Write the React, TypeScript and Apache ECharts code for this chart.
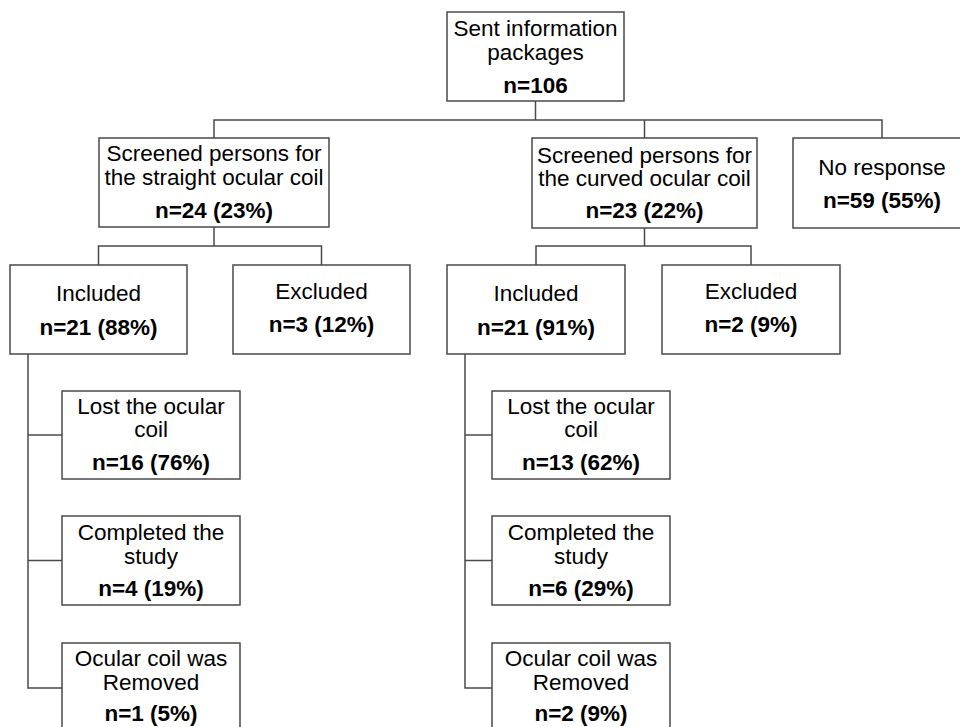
import React, { useEffect, useRef } from "react";
import * as echarts from "echarts";

// ---- data ----
const titles: string[][] = [
  ["Sent information", "packages"],
  ["Screened persons for", "the straight ocular coil"],
  ["Screened persons for", "the curved ocular coil"],
  ["No response"],
  ["Included"],
  ["Excluded"],
  ["Included"],
  ["Excluded"],
  ["Lost the ocular", "coil"],
  ["Completed the", "study"],
  ["Ocular coil was", "Removed"],
  ["Lost the ocular", "coil"],
  ["Completed the", "study"],
  ["Ocular coil was", "Removed"],
];
const counts: number[] = [106, 24, 23, 59, 21, 3, 21, 2, 16, 4, 1, 13, 6, 2];
const percents: (number | null)[] = [null, 23, 22, 55, 88, 12, 91, 9, 76, 19, 5, 62, 29, 9];

// ---- layout (positions only) ----
// [x, y, w, h], title line centers, count line center
const boxes: number[][] = [
  [447, 12, 177, 89],
  [99, 138, 230, 89],
  [532, 138, 225, 90],
  [793, 138, 178, 90],
  [10, 265, 177, 89],
  [233, 265, 177, 89],
  [447, 265, 178, 89],
  [662, 265, 178, 89],
  [62, 391, 178, 88],
  [62, 516, 178, 89],
  [62, 643, 178, 100],
  [492, 391, 178, 88],
  [492, 516, 178, 89],
  [492, 643, 178, 100],
];
const titleYs: number[][] = [
  [28, 52],
  [153, 177],
  [155, 178],
  [167],
  [293],
  [291],
  [293],
  [291],
  [406, 429],
  [532, 556],
  [658, 682],
  [406, 429],
  [532, 556],
  [658, 682],
];
const countYs: number[] = [85, 210, 210, 200, 327, 324, 327, 324, 462, 588, 713, 462, 588, 713];

const LINE = "#4a4a4a";
const FONT = '"Liberation Sans", Arial, sans-serif';

function cx(i: number) {
  return boxes[i][0] + boxes[i][2] / 2;
}
function top(i: number) {
  return boxes[i][1];
}
function bottom(i: number) {
  return boxes[i][1] + boxes[i][3];
}
function left(i: number) {
  return boxes[i][0];
}
function midY(i: number) {
  return boxes[i][1] + boxes[i][3] / 2;
}

export default function App() {
  const ref = useRef<HTMLDivElement>(null);
  useEffect(() => {
    if (!ref.current) return;
    const chart = echarts.init(ref.current, undefined, { renderer: "svg" });
    const elements: any[] = [];
    const poly = (pts: number[][]) =>
      elements.push({
        type: "polyline",
        shape: { points: pts },
        style: { stroke: LINE, lineWidth: 1.5, fill: null },
        silent: true,
      });

    // connectors
    const barY1 = 120;
    poly([[cx(0), bottom(0)], [cx(0), barY1]]);
    poly([[cx(1), top(1)], [cx(1), barY1], [cx(3), barY1], [cx(3), top(3)]]);
    poly([[cx(2), barY1], [cx(2), top(2)]]);
    const barY2 = 246;
    poly([[cx(1), bottom(1)], [cx(1), barY2]]);
    poly([[cx(4), top(4)], [cx(4), barY2], [cx(5), barY2], [cx(5), top(5)]]);
    poly([[cx(2), bottom(2)], [cx(2), barY2]]);
    poly([[cx(6), top(6)], [cx(6), barY2], [cx(7), barY2], [cx(7), top(7)]]);
    const trunkL = 28;
    const trunkR = 465;
    poly([[trunkL, bottom(4)], [trunkL, midY(10) - 5], [left(10), midY(10) - 5]]);
    poly([[trunkL, midY(8)], [left(8), midY(8)]]);
    poly([[trunkL, midY(9)], [left(9), midY(9)]]);
    poly([[trunkR, bottom(6)], [trunkR, midY(13) - 5], [left(13), midY(13) - 5]]);
    poly([[trunkR, midY(11)], [left(11), midY(11)]]);
    poly([[trunkR, midY(12)], [left(12), midY(12)]]);

    // boxes & texts
    boxes.forEach((b, i) => {
      elements.push({
        type: "rect",
        shape: { x: b[0], y: b[1], width: b[2], height: b[3] },
        style: { fill: "#ffffff", stroke: LINE, lineWidth: 1.5 },
        silent: true,
      });
      const c = b[0] + b[2] / 2;
      titles[i].forEach((t, k) => {
        elements.push({
          type: "text",
          x: c,
          y: titleYs[i][k],
          style: {
            text: t,
            fill: "#000",
            font: `22.5px ${FONT}`,
            align: "center",
            verticalAlign: "middle",
          },
          silent: true,
        });
      });
      const p = percents[i];
      const label = p === null ? `n=${counts[i]}` : `n=${counts[i]} (${p}%)`;
      elements.push({
        type: "text",
        x: c,
        y: countYs[i],
        style: {
          text: label,
          fill: "#000",
          font: `bold 22.5px ${FONT}`,
          align: "center",
          verticalAlign: "middle",
        },
        silent: true,
      });
    });

    chart.setOption({
      animation: false,
      backgroundColor: "#ffffff",
      graphic: { elements },
    });
    return () => chart.dispose();
  }, []);
  return (
    <div
      ref={ref}
      style={{ position: "fixed", left: 0, top: 0, width: 960, height: 727, background: "#fff" }}
    />
  );
}
